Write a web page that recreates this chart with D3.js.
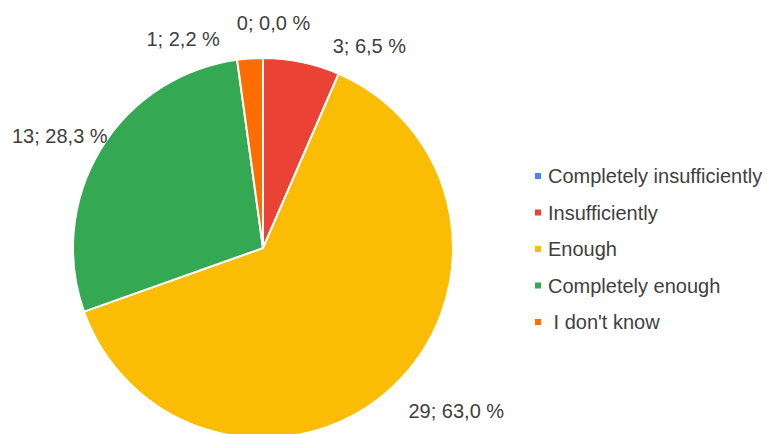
<!DOCTYPE html>
<html>
<head>
<meta charset="utf-8">
<script src="https://cdn.jsdelivr.net/npm/d3@7/dist/d3.min.js"></script>
<style>
  html, body { margin: 0; padding: 0; background: #fff; }
  svg { display: block; }
  text { font-family: "Liberation Sans", Arial, sans-serif; fill: #404040; }
</style>
</head>
<body>
<svg id="chart" width="767" height="434"></svg>
<script>
// Survey answers, in slice order (clockwise from 12 o'clock)
const categories = ["Completely insufficiently", "Insufficiently", "Enough", "Completely enough", "I don't know"];
const counts = [0, 3, 29, 13, 1];
const percentLabels = ["0,0 %", "6,5 %", "63,0 %", "28,3 %", "2,2 %"];
const legendLabels = ["Completely insufficiently", "Insufficiently", "Enough", "Completely enough", " I don't know"];
const colors = ["#4285F4", "#EA4335", "#FBBC04", "#34A853", "#FF6D01"];

const svg = d3.select("#chart");
const width = 767, height = 434;
const cx = 263, cy = 248, radius = 190;

const color = d3.scaleOrdinal().domain(categories).range(colors);

const pie = d3.pie().value(d => d.count).sort(null);
const data = categories.map((c, i) => ({ category: c, count: counts[i], pct: percentLabels[i], legend: legendLabels[i] }));
const arcs = pie(data);

const arc = d3.arc().innerRadius(0).outerRadius(radius);

const g = svg.append("g").attr("transform", `translate(${cx},${cy})`);

g.selectAll("path.slice")
  .data(arcs.filter(a => a.data.count > 0))
  .join("path")
  .attr("class", "slice")
  .attr("d", arc)
  .attr("fill", d => color(d.data.category))
  .attr("stroke", "#fff")
  .attr("stroke-width", 2)
  .attr("stroke-linejoin", "round");

// Outside labels: placed along each slice's mid-angle, then shifted apart so they do not collide
const labelRadius = 200;
const labelShift = {
  "Completely insufficiently": [10.5, -25],
  "Insufficiently": [29, -6],
  "Enough": [9, 17],
  "Completely enough": [15.5, -8],
  "I don't know": [-29.5, -9.5]
};

g.selectAll("text.value")
  .data(arcs)
  .join("text")
  .attr("class", "value")
  .style("font-size", "20px")
  .attr("text-anchor", d => {
    const a = (d.startAngle + d.endAngle) / 2;
    const s = Math.sin(a);
    return Math.abs(s) < 1e-6 ? "middle" : (s > 0 ? "start" : "end");
  })
  .attr("x", d => {
    const a = (d.startAngle + d.endAngle) / 2;
    return labelRadius * Math.sin(a) + labelShift[d.data.category][0];
  })
  .attr("y", d => {
    const a = (d.startAngle + d.endAngle) / 2;
    return -labelRadius * Math.cos(a) + 7 + labelShift[d.data.category][1];
  })
  .text(d => `${d.data.count}; ${d.data.pct}`);

// Legend
const legendY = d3.scalePoint().domain(categories).range([176, 322]);
const legend = svg.append("g").attr("transform", "translate(535,0)");

const items = legend.selectAll("g.item")
  .data(data)
  .join("g")
  .attr("class", "item")
  .attr("transform", d => `translate(0,${legendY(d.category)})`);

items.append("rect")
  .attr("x", 0).attr("y", -3)
  .attr("width", 6).attr("height", 6)
  .attr("fill", d => color(d.category));

items.append("text")
  .attr("x", 13)
  .attr("y", 7)
  .style("font-size", "20px")
  .style("white-space", "pre")
  .attr("xml:space", "preserve")
  .text(d => d.legend);
</script>
</body>
</html>
